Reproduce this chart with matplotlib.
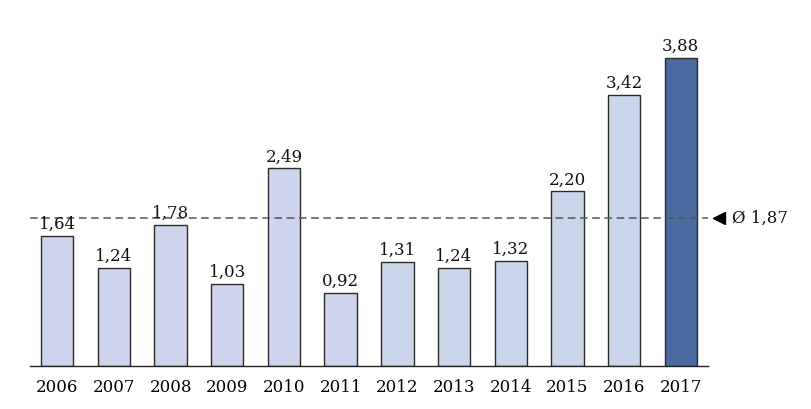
import matplotlib.pyplot as plt

# values per year
years = ["2006", "2007", "2008", "2009", "2010", "2011",
         "2012", "2013", "2014", "2015", "2016", "2017"]
values = [1.64, 1.24, 1.78, 1.03, 2.49, 0.92, 1.31, 1.24, 1.32, 2.20, 3.42, 3.88]
avg = 1.87

plt.rcParams['font.family'] = ['DejaVu Serif']

fig = plt.figure(figsize=(8.12, 4.1), dpi=100)
ax = fig.add_axes([30 / 812, 1 - 367 / 410, 678 / 812, 327 / 410])

x = list(range(len(years)))
colors = ["#cdd4ec"] * 6 + ["#cad6ea"] * 5 + ["#4b6a9f"]
bars = ax.bar(x, values, width=0.57, color=colors, edgecolor="#2b2b2b", linewidth=1.0, zorder=2)

for xi, v in zip(x, values):
    ax.text(xi, v + 0.05, f"{v:.2f}".replace(".", ","), ha="center", va="bottom",
            fontsize=12, color="#111111", zorder=4)

# average line
ax.axhline(avg, color="#555555", linestyle=(0, (5, 3)), linewidth=1.1, zorder=3)
ax.plot([11.68], [avg], marker="<", markersize=9, color="black", clip_on=False)
ax.text(11.9, avg, "Ø " + f"{avg:.2f}".replace(".", ","), ha="left", va="center",
        fontsize=12, color="#111111", clip_on=False)

ax.set_xlim(-0.48, 11.48)
ax.set_ylim(0, 4.12)
ax.set_xticks(x)
ax.set_xticklabels(years, fontsize=12)
ax.tick_params(axis="x", length=0, pad=9)
ax.set_yticks([])
for s in ["top", "right", "left"]:
    ax.spines[s].set_visible(False)
ax.spines["bottom"].set_color("#222222")
ax.spines["bottom"].set_linewidth(1.0)

fig.savefig("out.png", dpi=100)
